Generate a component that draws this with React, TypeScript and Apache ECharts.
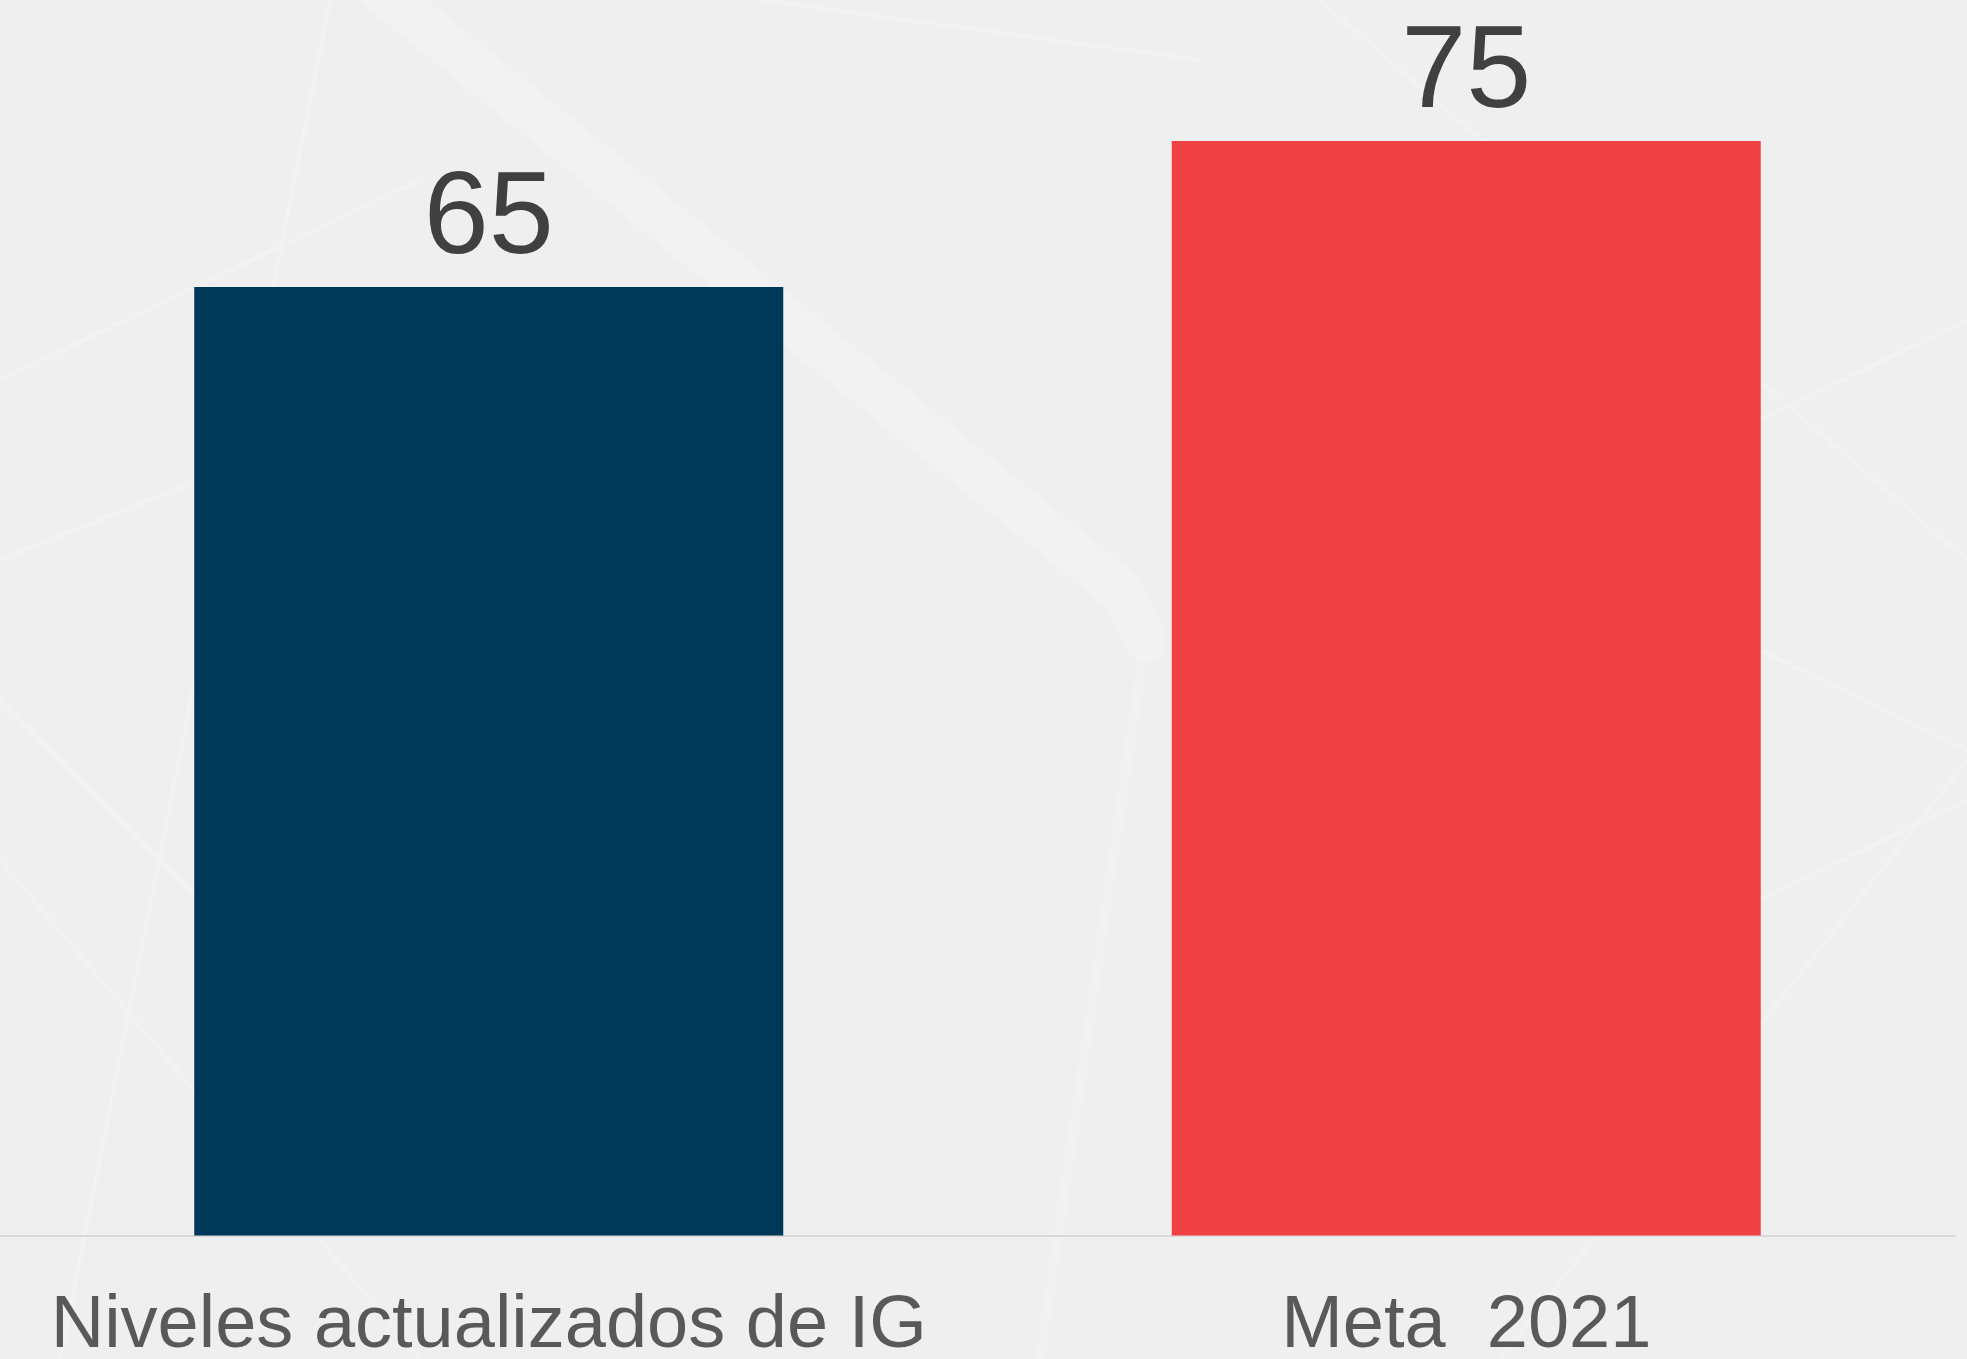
import React, { useEffect, useRef } from "react";
import * as echarts from "echarts";

const categories = ["Niveles actualizados de IG", "Meta  2021"];
const values = [65, 75];
const barColors = ["#003859", "#EF4044"];

export default function App() {
  const ref = useRef<HTMLDivElement>(null);
  useEffect(() => {
    if (!ref.current) return;
    const chart = echarts.init(ref.current, undefined, { renderer: "svg" });
    const font = "'Liberation Sans', Arial, sans-serif";
    const faint = (x1: number, y1: number, x2: number, y2: number, w = 4) => ({
      type: "line",
      silent: true,
      z: -10,
      shape: { x1, y1, x2, y2 },
      style: { stroke: "#f4f4f4", lineWidth: w, opacity: 0.6, lineCap: "round" }
    });
    chart.setOption({
      animation: false,
      backgroundColor: "#efefef",
      graphic: [
        { type: "polyline", silent: true, z: -10, shape: { points: [[380, -10], [1120, 590], [1145, 640]] }, style: { stroke: "#f3f3f3", lineWidth: 44, opacity: 0.65, lineCap: "round", lineJoin: "round" } },
        { type: "line", silent: true, z: -10, shape: { x1: 1145, y1: 640, x2: 1040, y2: 1359 }, style: { stroke: "#f3f3f3", lineWidth: 10, opacity: 0.5, lineCap: "round" } },
        faint(0, 380, 420, 180),
        faint(60, 1359, 330, 0),
        faint(1320, 0, 1967, 560),
        faint(1500, 1359, 1967, 760),
        faint(0, 860, 420, 1359),
        faint(760, 0, 1200, 60),
        faint(1760, 420, 1967, 320),
        faint(1760, 650, 1967, 750),
        faint(1760, 900, 1967, 800),
        faint(0, 560, 200, 480),
        faint(0, 700, 200, 900)
      ],
      grid: { left: 0, right: 12, top: 68, bottom: 123.5, containLabel: false },
      xAxis: {
        type: "category",
        data: categories,
        axisLine: { show: true, lineStyle: { color: "#d9d9d9", width: 2 } },
        axisTick: { show: false },
        axisLabel: {
          margin: 56,
          fontSize: 74,
          lineHeight: 60,
          color: "#595959",
          fontFamily: font,
          interval: 0
        }
      },
      yAxis: {
        type: "value",
        min: 0,
        max: 80,
        show: false,
        splitLine: { show: false }
      },
      series: [
        {
          type: "bar",
          barWidth: 589,
          data: values.map((v, i) => ({ value: v, itemStyle: { color: barColors[i] } })),
          label: {
            show: true,
            position: "top",
            distance: 16,
            fontSize: 117,
            color: "#404040",
            fontFamily: font
          }
        }
      ]
    });
    return () => chart.dispose();
  }, []);
  return (
    <div
      ref={ref}
      style={{ position: "fixed", left: 0, top: 0, width: 1967, height: 1359 }}
    />
  );
}
